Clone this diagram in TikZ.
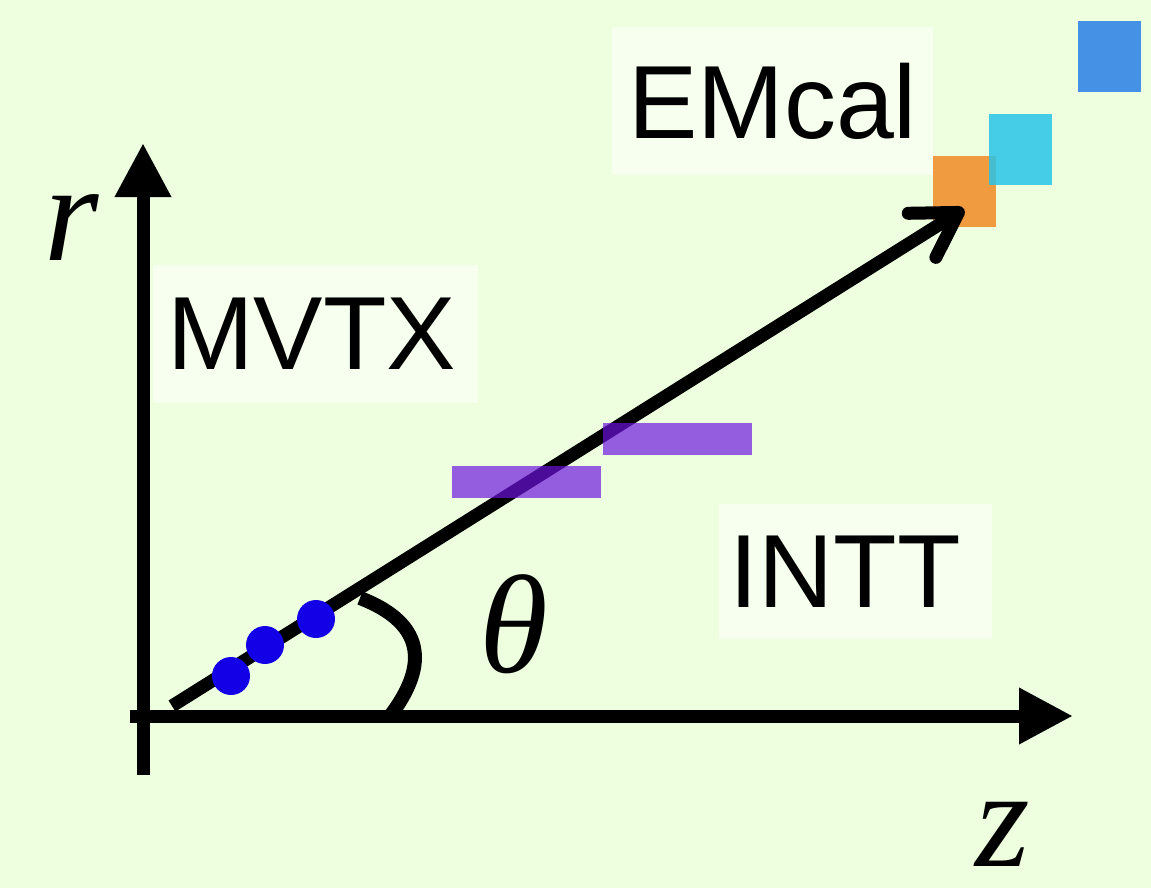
\documentclass[tikz,border=0pt]{standalone}
\usepackage{fontspec}
\setsansfont{Liberation Sans}
\newfontfamily\varfont{Liberation Serif}
\usepackage{xcolor}
\usetikzlibrary{arrows.meta}

\definecolor{bgcol}{RGB}{238,255,224}
\definecolor{boxcol}{RGB}{247,255,238}
\definecolor{hitcol}{RGB}{20,0,230}
\definecolor{inttcol}{RGB}{109,20,222}
\definecolor{emorange}{RGB}{240,155,64}
\definecolor{emcyan}{RGB}{40,196,232}
\definecolor{emblue}{RGB}{68,145,230}

\begin{document}
\begin{tikzpicture}[x=1pt, y=-1pt,
        detbox/.style={rectangle, fill=boxcol, inner sep=0pt, font=\sffamily\fontsize{104}{110}\selectfont},
        cell/.style={rectangle, inner sep=0pt, minimum width=63pt, minimum height=71pt},
        layer/.style={rectangle, inner sep=0pt, fill=inttcol, fill opacity=0.69, minimum width=149pt, minimum height=32pt},
        hit/.style={circle, fill=hitcol, inner sep=0pt, minimum size=38pt},
        axis/.style={line width=13pt, -{Triangle[length=54pt,width=53pt]}},
        track/.style={line width=13pt, -{Straight Barb[length=43pt,width=52pt,round]}},
        thetaarc/.style={line width=14pt},
        sym/.style={font=\varfont\itshape\fontsize{140}{140}\selectfont, inner sep=0pt}
    ]
        % Background
        \fill[bgcol] (0,0) rectangle (1151,888);
        \useasboundingbox (0,0) rectangle (1151,888);

        % Detector labels
        \node[detbox, minimum width=321pt, minimum height=148pt] (emcal) at (772.5,101) {EMcal};
        \node[detbox, minimum width=325pt, minimum height=138pt] (mvtx) at (315.5,334) {MVTX\hspace*{8pt}};
        \node[detbox, minimum width=273pt, minimum height=135pt] (intt) at (855.5,571.5) {INTT\hspace*{20pt}};

        % Calorimeter towers
        \node[cell, fill=emorange] (tower1) at (964.5,191.5) {};
        \node[cell, fill=emcyan, fill opacity=0.85] (tower2) at (1020.5,149.5) {};
        \node[cell, fill=emblue] (tower3) at (1109.5,56.5) {};

        % Track
        \coordinate (origin) at (172,706);
        \coordinate (tip) at (964,209);
        \draw[track] (origin) -- (tip);

        % INTT layers
        \node[layer] (intt1) at (526.5,482) {};
        \node[layer] (intt2) at (677.5,439) {};

        % MVTX hits
        \node[hit] (hit1) at (231,676) {};
        \node[hit] (hit2) at (265,645) {};
        \node[hit] (hit3) at (316,619) {};

        % Polar angle
        \coordinate (arcstart) at (360,598);
        \coordinate (arcend) at (390,716);
        \draw[thetaarc] (arcstart) .. controls (430,625) and (425,670) .. (arcend);

        % Axes
        \coordinate (zfoot) at (130,716);
        \coordinate (zend) at (1073,716);
        \coordinate (rfoot) at (143,775);
        \coordinate (rend) at (143,143);
        \draw[axis] (zfoot) -- (zend);
        \draw[axis] (rfoot) -- (rend);

        % Axis and angle symbols
        \node[sym] (rlabel) at (72,228) {r};
        \node[sym] (zlabel) at (1003,834) {z};
        \node[sym] (theta) at (514,624) {θ};
    \end{tikzpicture}
\end{document}
